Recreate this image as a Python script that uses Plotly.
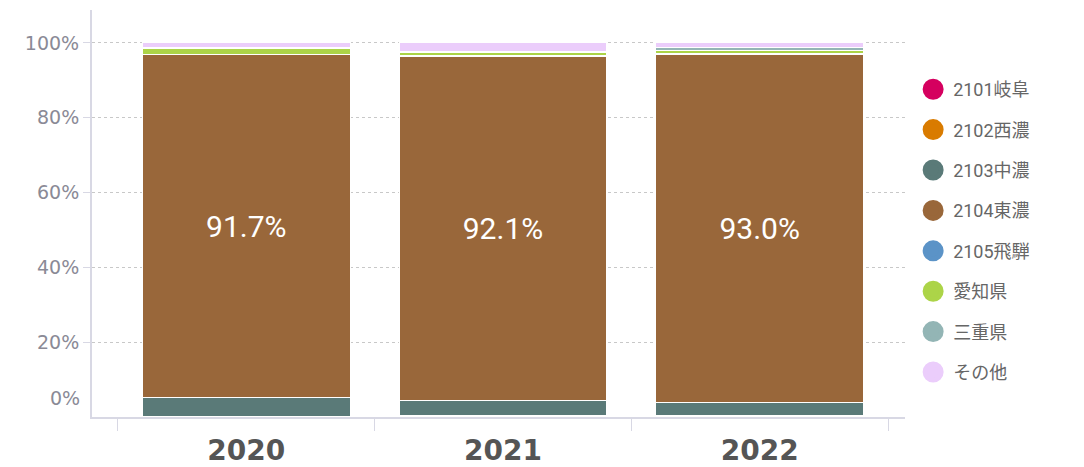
import plotly.graph_objects as go

years = ["2020", "2021", "2022"]
series_names = ["2101岐阜", "2102西濃", "2103中濃", "2104東濃", "2105飛騨", "愛知県", "三重県", "その他"]
series_values = {
    "2101岐阜": [0.1, 0.2, 0.2],
    "2102西濃": [0.1, 0.2, 0.2],
    "2103中濃": [4.9, 4.0, 3.6],
    "2104東濃": [91.7, 92.1, 93.0],
    "2105飛騨": [0.1, 0.2, 0.2],
    "愛知県": [1.6, 0.8, 0.8],
    "三重県": [0.3, 0.3, 0.8],
    "その他": [1.2, 2.2, 1.2],
}
colors = ["#d5005f", "#d97b00", "#5a7a78", "#99673a", "#5b93c7", "#acd448", "#93b5b5", "#ebcdfb"]
ytick_vals = [20, 40, 60, 80, 100]
ytick_text = ["20%", "40%", "60%", "80%", "100%"]

FONT = "Roboto, 'Noto Sans CJK JP', sans-serif"
TICKFONT = "'DejaVu Sans', sans-serif"

fig = go.Figure()
for name, col in zip(series_names, colors):
    vals = series_values[name]
    show_text = name == "2104東濃"
    fig.add_trace(go.Bar(
        x=years, y=vals, name=name,
        marker=dict(color=col, line=dict(color="white", width=1)),
        width=0.81,
        showlegend=False,
        text=[f"{v:.1f}%" for v in vals] if show_text else None,
        textposition="inside" if show_text else "none",
        insidetextanchor="middle",
        textfont=dict(color="white", size=30, family=FONT),
        textangle=0,
        hoverinfo="x+y+name",
    ))
for name, col in zip(series_names, colors):
    fig.add_trace(go.Scatter(
        x=[None], y=[None], mode="markers", name=name,
        marker=dict(color=col, size=16, symbol="circle", line=dict(color=col, width=5)),
        legendgroup=name, showlegend=True,
    ))

fig.add_annotation(x=-0.601, y=0, xref="x", yref="y", text="0%", showarrow=False,
                   xanchor="right", xshift=-10, yshift=19,
                   font=dict(size=19, color="#8a8a96", family=TICKFONT))

fig.update_layout(
    width=1084, height=467,
    margin=dict(l=84, r=187, t=2, b=58),
    barmode="stack",
    plot_bgcolor="white", paper_bgcolor="white",
    font=dict(family=FONT),
    legend=dict(x=1.01, xanchor="left", y=0.457, yanchor="middle",
                traceorder="grouped", tracegroupgap=14,
                font=dict(size=18, color="#666666", family=FONT),
                itemsizing="trace"),
    xaxis=dict(range=[-0.601, 2.566], type="category",
               showline=True, linecolor="#d8d8e4", linewidth=2,
               ticks="outside", tickson="boundaries", ticklen=12, tickcolor="#d8d8e4",
               tickfont=dict(size=28, color="#555555", family=TICKFONT, weight="bold"),
               ticklabelstandoff=7,
               showgrid=False, fixedrange=True),
    yaxis=dict(range=[0, 108.8], tickvals=ytick_vals, ticktext=ytick_text,
               showline=True, linecolor="#d8d8e4", linewidth=2,
               ticks="outside", ticklen=7, tickcolor="#d8d8e4",
               tickfont=dict(size=19, color="#8a8a96", family=TICKFONT),
               showgrid=True, gridcolor="#c8c8c8", griddash="dot", gridwidth=1,
               zeroline=False),
)

fig.write_html("out.html")
